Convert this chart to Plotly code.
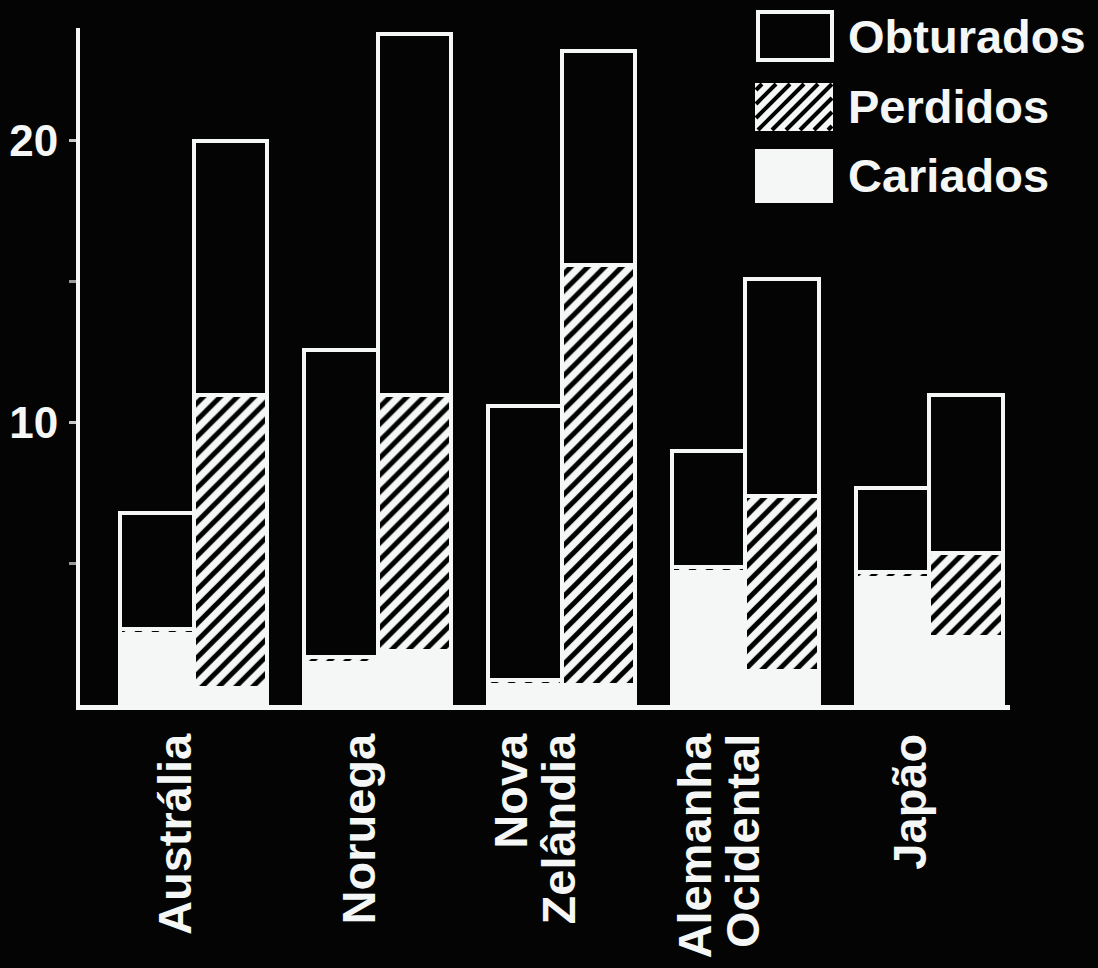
import plotly.graph_objects as go

# ---- data ----
countries = ["Austrália", "Noruega", "Nova<br>Zelândia", "Alemanha<br>Ocidental", "Japão"]
cariados_a = [2.5, 1.5, 0.7, 4.7, 4.5]
perdidos_a = [0.2, 0.2, 0.2, 0.2, 0.2]
obturados_a = [4.1, 10.9, 9.7, 4.1, 3.0]
cariados_b = [0.6, 1.9, 0.7, 1.2, 2.4]
perdidos_b = [10.4, 9.1, 14.9, 6.2, 3.0]
obturados_b = [9.0, 12.8, 7.6, 7.7, 5.6]
y_ticks = [10, 20]
y_minor = [5, 15]
legend_names = ["Obturados", "Perdidos", "Cariados"]

W, H = 1098, 968
L, R, T, B = 80, 88, 28, 263
FONT = "Liberation Sans"
WHITE = "#f4f7f5"
BG = "#040404"

idx = list(range(len(countries)))
xa = [i - 0.2 for i in idx]
xb = [i + 0.2 for i in idx]

fig = go.Figure()

def add_stack(x, car, per, obt):
    line = dict(color=WHITE, width=4)
    fig.add_trace(go.Bar(x=x, y=car, width=0.4, name="Cariados", showlegend=False,
                         marker=dict(color=WHITE, line=line)))
    fig.add_trace(go.Bar(x=x, y=per, width=0.4, name="Perdidos", showlegend=False,
                         marker=dict(color=WHITE, line=line,
                                     pattern=dict(shape="/", fgcolor="#000000", bgcolor=WHITE,
                                                  fgopacity=1, size=12, solidity=0.42,
                                                  fillmode="overlay"))))
    fig.add_trace(go.Bar(x=x, y=obt, width=0.4, name="Obturados", showlegend=False,
                         marker=dict(color=BG, line=line)))

add_stack(xa, cariados_a, perdidos_a, obturados_a)
add_stack(xb, cariados_b, perdidos_b, obturados_b)

# tick labels: one tick per text line so the two-line names stay tightly set
line_offsets = {1: [-0.10], 2: [-0.27, -0.01]}
tick_vals, tick_text = [], []
for i, name in enumerate(countries):
    parts = name.split("<br>")
    for part, off in zip(parts, line_offsets[len(parts)]):
        tick_vals.append(i + off)
        tick_text.append(part)

fig.update_layout(
    width=W, height=H,
    margin=dict(l=L, r=R, t=T, b=B, pad=0),
    paper_bgcolor=BG, plot_bgcolor=BG,
    barmode="stack", bargap=0,
    showlegend=False,
    font=dict(family=FONT, color=WHITE),
)

fig.update_xaxes(
    range=[-0.62, 4.44], automargin=False,
    tickmode="array", tickvals=tick_vals, ticktext=tick_text,
    tickangle=-90, tickfont=dict(size=47, family=FONT, color=WHITE, weight="bold"),
    ticks="", showgrid=False, zeroline=False,
    showline=True, linecolor=WHITE, linewidth=5,
    ticklabelstandoff=5,
)
fig.update_yaxes(
    range=[0, 24], automargin=False,
    tickmode="array", tickvals=y_ticks, ticktext=[str(v) for v in y_ticks],
    tickfont=dict(size=44, family=FONT, color=WHITE, weight="bold"),
    ticks="outside", ticklen=7, tickwidth=3, tickcolor="#c8c8c8",
    minor=dict(tickvals=y_minor, ticks="outside", ticklen=7, tickwidth=3, tickcolor="#9a9a9a"),
    showgrid=False, zeroline=False,
    showline=True, linecolor=WHITE, linewidth=4,
    ticklabelstandoff=2,
)

# ---- manual legend (large swatches) ----
PW, PH = W - L - R, H - T - B
def px(x):
    return (x - L) / PW
def py(y):
    return (H - B - y) / PH

shapes = []
sw = [(758, 12, 832, 60), (756, 84, 832, 130), (756, 150, 832, 202)]
x0, y0, x1, y1 = sw[0]
shapes.append(dict(type="rect", xref="paper", yref="paper", x0=px(x0), x1=px(x1), y0=py(y1), y1=py(y0),
                   fillcolor=BG, line=dict(color=WHITE, width=4), layer="above"))
x0, y0, x1, y1 = sw[1]
shapes.append(dict(type="rect", xref="paper", yref="paper", x0=px(x0), x1=px(x1), y0=py(y1), y1=py(y0),
                   fillcolor=WHITE, line=dict(color=WHITE, width=2), layer="above"))
c = x0 + y0 + 6
while c < x1 + y1:
    xa_ = max(x0, c - y1)
    xb_ = min(x1, c - y0)
    if xb_ > xa_:
        shapes.append(dict(type="line", xref="paper", yref="paper",
                           x0=px(xa_), y0=py(c - xa_), x1=px(xb_), y1=py(c - xb_),
                           line=dict(color="#000000", width=4), layer="above"))
    c += 14
x0, y0, x1, y1 = sw[2]
shapes.append(dict(type="rect", xref="paper", yref="paper", x0=px(x0), x1=px(x1), y0=py(y1), y1=py(y0),
                   fillcolor=WHITE, line=dict(color=WHITE, width=2), layer="above"))
fig.update_layout(shapes=shapes)

for name, (x0, y0, x1, y1) in zip(legend_names, sw):
    fig.add_annotation(xref="paper", yref="paper", x=px(846), y=py((y0 + y1) / 2),
                       xanchor="left", yanchor="middle", text=name, showarrow=False,
                       font=dict(size=47, family=FONT, color=WHITE, weight="bold"))

fig.write_html("out.html", config={"displayModeBar": False},
               post_script="document.body.style.margin='0';document.body.style.overflow='hidden';document.body.style.background='#040404';")
